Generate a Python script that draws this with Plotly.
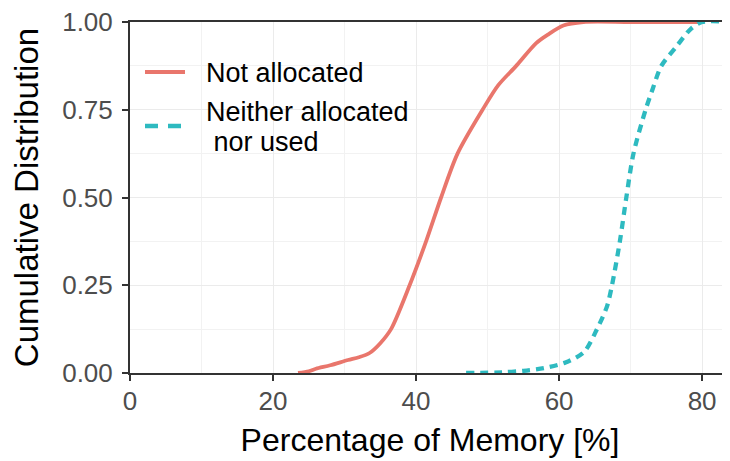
import plotly.graph_objects as go

not_alloc_x = [23.5, 25.0, 26.0, 28.0, 30.5, 32.0, 33.5, 35.0, 36.5, 39.1, 41.4, 43.5,
               45.8, 49.3, 51.5, 54.0, 56.8, 58.5, 60.6, 63.4, 70.0, 80.0]
not_alloc_y = [0.0, 0.005, 0.012, 0.022, 0.037, 0.045, 0.057, 0.085, 0.125, 0.25, 0.375, 0.5,
               0.625, 0.75, 0.82, 0.875, 0.94, 0.965, 0.99, 1.0, 1.0, 1.0]

neither_x = [47.0, 52.0, 55.0, 57.9, 60.9, 63.5, 65.3, 66.7, 67.4, 68.5, 69.4, 70.4,
             72.1, 73.1, 74.3, 76.4, 78.4, 80.0, 84.0]
neither_y = [0.0, 0.002, 0.006, 0.014, 0.03, 0.06, 0.125, 0.19, 0.25, 0.375, 0.5, 0.625,
             0.75, 0.81, 0.875, 0.93, 0.98, 1.0, 1.0]

series_names = ["Not allocated", "Neither allocated<br> nor used"]
x_ticks = [0, 20, 40, 60, 80]
y_ticks = [0, 0.25, 0.5, 0.75, 1.0]
y_tick_labels = ["0.00", "0.25", "0.50", "0.75", "1.00"]

RED = "#E9766C"
TEAL = "#2EBAC0"
FONT = "Liberation Sans, Arial, Helvetica, sans-serif"

# The page body has an 8px default margin, so the figure is sized/positioned for it.
OFF = 8
W, H = 730 - OFF, 461 - OFF
L, R, T = 130 - OFF, 0, 22 - OFF
B = H - T - 351
pw, ph = W - L - R, H - T - B

fig = go.Figure()
fig.add_trace(go.Scatter(x=not_alloc_x, y=not_alloc_y, mode="lines", name=series_names[0],
                         showlegend=False,
                         line=dict(color=RED, width=3.8, shape="spline", smoothing=0.8)))
fig.add_trace(go.Scatter(x=neither_x, y=neither_y, mode="lines", name=series_names[1],
                         showlegend=False,
                         line=dict(color=TEAL, width=4.3, dash="8px,6px", shape="spline",
                                   smoothing=0.8)))


def px(xp):
    return (xp - OFF - L) / pw


def py(yp):
    return 1 - (yp - OFF - T) / ph


# Legend drawn as keys + text inside the panel (ggplot-style legend)
legend_keys = [
    dict(y=72, color=RED, dash="solid", width=3.8, x0=145, x1=185),
    dict(y=126, color=TEAL, dash="13px,10px", width=4.3, x0=145, x1=182),
]
for k in legend_keys:
    fig.add_shape(type="line", xref="paper", yref="paper",
                  x0=px(k["x0"]), x1=px(k["x1"]), y0=py(k["y"]), y1=py(k["y"]),
                  line=dict(color=k["color"], width=k["width"], dash=k["dash"]))

legend_texts = [(series_names[0], 73), ("Neither allocated", 112), (" nor used", 142)]
for txt, yc in legend_texts:
    fig.add_annotation(text=txt, xref="paper", yref="paper", x=px(204), y=py(yc),
                       xanchor="left", yanchor="middle", showarrow=False,
                       font=dict(size=27, color="#000000", family=FONT))

fig.update_layout(
    width=W, height=H,
    margin=dict(l=L, r=R, t=T, b=B, autoexpand=False),
    paper_bgcolor="white", plot_bgcolor="white",
    font=dict(family=FONT, color="#000000"),
    showlegend=False,
    xaxis=dict(range=[0, 83.9], tickvals=x_ticks, ticktext=[str(v) for v in x_ticks],
               automargin=False, ticklabeloverflow="allow",
               showgrid=True, gridcolor="#EBEBEB", gridwidth=1.2,
               minor=dict(dtick=10, showgrid=True, gridcolor="#F2F2F2", gridwidth=0.8),
               showline=True, linecolor="#333333", linewidth=2, mirror=True,
               ticks="outside", ticklen=6, tickcolor="#333333", tickwidth=2,
               ticklabelstandoff=-2,
               tickfont=dict(size=26, color="#4D4D4D"),
               title=dict(text="Percentage of Memory [%]", font=dict(size=32, color="#000000"),
                          standoff=13),
               zeroline=False),
    yaxis=dict(range=[0, 1], tickvals=y_ticks, ticktext=y_tick_labels,
               automargin=False, ticklabeloverflow="allow",
               showgrid=True, gridcolor="#EBEBEB", gridwidth=1.2,
               minor=dict(tickvals=[0.125, 0.375, 0.625, 0.875], showgrid=True,
                          gridcolor="#F2F2F2", gridwidth=0.8),
               showline=True, linecolor="#333333", linewidth=2,
               ticks="outside", ticklen=6, tickcolor="#333333", tickwidth=2,
               ticklabelstandoff=4,
               tickfont=dict(size=26, color="#4D4D4D"),
               title=dict(text="Cumulative Distribution", font=dict(size=33, color="#000000"),
                          standoff=14),
               zeroline=False),
)

fig.write_html("out.html")
